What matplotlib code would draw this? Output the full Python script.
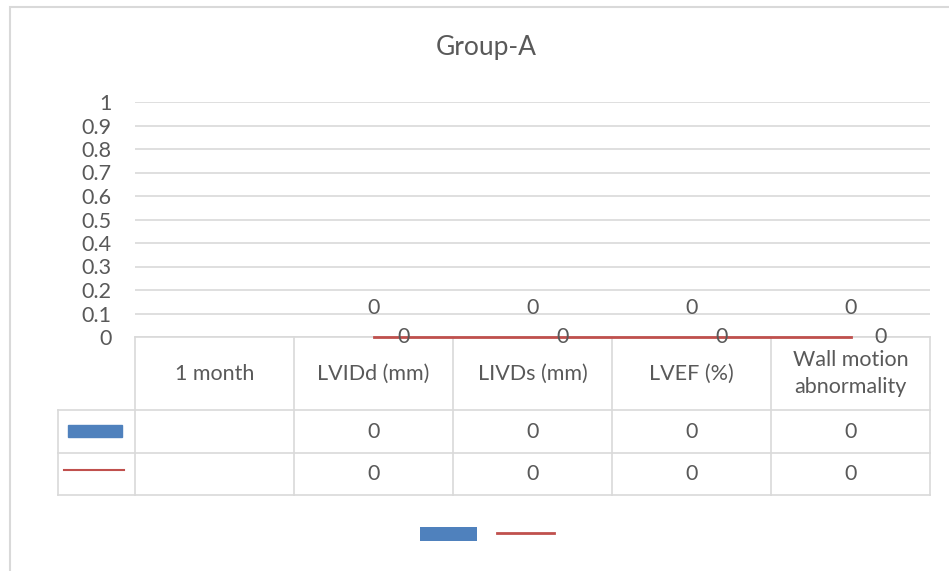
import numpy as np
import matplotlib
matplotlib.use("Agg")
import matplotlib.pyplot as plt
from matplotlib.patches import Rectangle
from matplotlib.lines import Line2D

# data
categories = ["1 month", "LVIDd (mm)", "LIVDs (mm)", "LVEF (%)", "Wall motion\nabnormality"]
bar_values = [np.nan, 0, 0, 0, 0]
line_values = [np.nan, 0, 0, 0, 0]
y_ticks = [0, 0.1, 0.2, 0.3, 0.4, 0.5, 0.6, 0.7, 0.8, 0.9, 1]
title = "Group-A"

plt.rcParams['font.family'] = ['Lato', 'DejaVu Sans']
text_color = '#595959'
grid_color = '#d9d9d9'
blue = '#4f81bd'
red = '#c0504d'
fs = 15.5

W, H = 949, 571
fig = plt.figure(figsize=(W / 100, H / 100), dpi=100)

# plot area in pixel terms of the reference
left, right, top, bottom = 135, 930, 102, 337
ax = fig.add_axes([left / W, 1 - bottom / H, (right - left) / W, (bottom - top) / H])

x = np.arange(len(categories))
bars = ax.bar(x, bar_values, width=0.5, color=blue)
line, = ax.plot(x, line_values, color=red, lw=2, zorder=4, clip_on=False)

ax.set_xlim(-0.5, len(categories) - 0.5)
ax.set_ylim(0, 1)
ax.set_yticks(y_ticks)
ax.set_yticklabels([f'{v:g}' for v in y_ticks])
ax.tick_params(axis='y', length=0, pad=17, labelsize=fs, labelcolor=text_color)
ax.set_xticks([])
ax.grid(axis='y', color=grid_color, lw=1.2)
ax.set_axisbelow(True)
for s in ax.spines.values():
    s.set_visible(False)

# data labels
for i, v in enumerate(bar_values):
    if not np.isnan(v):
        ax.annotate(f'{v:g}', (i, v), xytext=(0, 21), textcoords='offset points',
                    ha='center', va='center', fontsize=fs, color=text_color)
for i, v in enumerate(line_values):
    if not np.isnan(v):
        ax.annotate(f'{v:g}', (i, v), xytext=(21.5, 0), textcoords='offset points',
                    ha='center', va='center', fontsize=fs, color=text_color,
                    annotation_clip=False, zorder=5)

# data table below the plot
ph = bottom - top
pw = right - left
row_edges = [0, -(410 - bottom) / ph, -(453 - bottom) / ph, -(495 - bottom) / ph]
key_left = (58 - left) / pw
xt = ax.get_xaxis_transform()
kw = dict(color=grid_color, lw=1.2, clip_on=False, zorder=1)

ax.plot([-0.5, len(categories) - 0.5], [row_edges[0]] * 2, transform=xt, **kw)
for r in row_edges[1:]:
    ax.plot([key_left, 1], [r, r], transform=ax.transAxes, **kw)
for c in np.arange(len(categories) + 1) - 0.5:
    ax.plot([c, c], [row_edges[0], row_edges[3]], transform=xt, **kw)
ax.plot([key_left, key_left], [row_edges[1], row_edges[3]], transform=ax.transAxes, **kw)

head_y = (row_edges[0] + row_edges[1]) / 2
row1_y = (row_edges[1] + row_edges[2]) / 2
row2_y = (row_edges[2] + row_edges[3]) / 2
for i, cat in enumerate(categories):
    ax.text(i, head_y, cat, transform=xt, ha='center', va='center',
            fontsize=fs, color=text_color, linespacing=1.45)
    bv = '' if np.isnan(bar_values[i]) else f'{bar_values[i]:g}'
    lv = '' if np.isnan(line_values[i]) else f'{line_values[i]:g}'
    ax.text(i, row1_y, bv, transform=xt, ha='center', va='center', fontsize=fs, color=text_color)
    ax.text(i, row2_y, lv, transform=xt, ha='center', va='center', fontsize=fs, color=text_color)

# legend keys inside the table
ax.add_patch(Rectangle(((68 - left) / pw, -(437 - bottom) / ph), 54 / pw, 12 / ph,
                       transform=ax.transAxes, color=blue, clip_on=False))
ax.add_line(Line2D([(64 - left) / pw, (124 - left) / pw], [-(470 - bottom) / ph] * 2,
                   transform=ax.transAxes, color=red, lw=1.5, clip_on=False))

fig.text(486 / W, 1 - 48 / H, title, ha='center', va='center', fontsize=19, color=text_color)

fig.legend(handles=[bars, line], labels=['', ''], loc='center',
           bbox_to_anchor=(487 / W, 1 - 534 / H), ncol=2, frameon=False,
           fontsize=10, handlelength=4.1, handleheight=1.08,
           columnspacing=1.44, handletextpad=0)

# chart border
fig.patches.append(Rectangle((10 / W, -0.1), 1.1, 1.1 - 7 / H, transform=fig.transFigure,
                             fill=False, edgecolor=grid_color, lw=1.5))

fig.savefig('out.png', dpi=100)
